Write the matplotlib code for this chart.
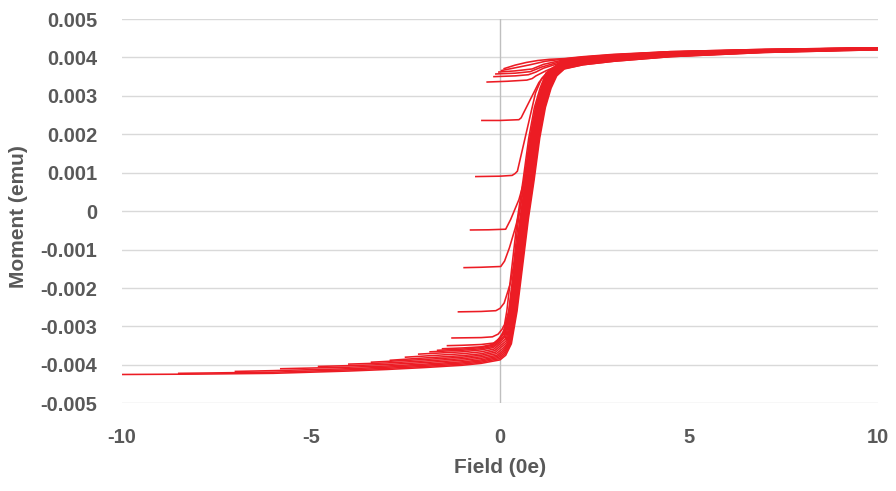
import matplotlib.pyplot as plt
import numpy as np

# First-order reversal curves.
# Fields in Oe, moments in 1e-3 emu (converted when plotted).

# curves that start on the saturated lower branch
lower_fields = [
    [-10, -8, -6, -4, -3, -2, -1, -0.5, 0, 0.15, 0.3, 0.45, 0.6, 0.75, 0.9, 1.05, 1.2, 1.35, 1.5, 1.7, 2.2, 3, 4.5, 7, 10],
    [-8.5, -6, -4, -3, -2, -1, -0.5, -0.02, 0.13, 0.28, 0.43, 0.58, 0.73, 0.88, 1.03, 1.18, 1.33, 1.48, 1.7, 2.2, 3, 4.5, 7, 10],
    [-7, -6, -4, -3, -2, -1, -0.5, -0.04, 0.11, 0.26, 0.41, 0.56, 0.71, 0.86, 1.01, 1.16, 1.31, 1.46, 1.7, 2.2, 3, 4.5, 7, 10],
    [-5.8, -4, -3, -2, -1, -0.5, -0.06, 0.09, 0.24, 0.39, 0.54, 0.69, 0.84, 0.99, 1.14, 1.29, 1.44, 1.7, 2.2, 3, 4.5, 7, 10],
    [-4.8, -4, -3, -2, -1, -0.5, -0.08, 0.07, 0.22, 0.37, 0.52, 0.67, 0.82, 0.97, 1.12, 1.27, 1.42, 1.7, 2.2, 3, 4.5, 7, 10],
    [-4, -3, -2, -1, -0.5, -0.1, 0.05, 0.2, 0.35, 0.5, 0.65, 0.8, 0.95, 1.1, 1.25, 1.4, 1.7, 2.2, 3, 4.5, 7, 10],
    [-3.4, -3, -2, -1, -0.5, -0.12, 0.03, 0.18, 0.33, 0.48, 0.63, 0.78, 0.93, 1.08, 1.23, 1.38, 1.7, 2.2, 3, 4.5, 7, 10],
    [-2.9, -2, -1, -0.5, -0.14, 0.01, 0.16, 0.31, 0.46, 0.61, 0.76, 0.91, 1.06, 1.21, 1.36, 1.7, 2.2, 3, 4.5, 7, 10],
    [-2.5, -2, -1, -0.5, -0.16, -0.01, 0.14, 0.29, 0.44, 0.59, 0.74, 0.89, 1.04, 1.19, 1.34, 1.7, 2.2, 3, 4.5, 7, 10],
    [-2.15, -1, -0.5, -0.18, -0.03, 0.12, 0.27, 0.42, 0.57, 0.72, 0.87, 1.02, 1.17, 1.32, 1.7, 2.2, 3, 4.5, 7, 10],
    [-1.85, -1, -0.5, -0.19, -0.04, 0.11, 0.26, 0.41, 0.56, 0.71, 0.86, 1.01, 1.16, 1.31, 1.7, 2.2, 3, 4.5, 7, 10],
    [-1.65, -1, -0.5, -0.2, -0.05, 0.1, 0.25, 0.4, 0.55, 0.7, 0.85, 1.0, 1.15, 1.3, 1.7, 2.2, 3, 4.5, 7, 10],
    [-1.52, -1, -0.5, -0.21, -0.06, 0.09, 0.24, 0.39, 0.54, 0.69, 0.84, 0.99, 1.14, 1.29, 1.7, 2.2, 3, 4.5, 7, 10],
    [-1.39, -1, -0.5, -0.15, 0.0, 0.1, 0.23, 0.38, 0.53, 0.68, 0.83, 0.98, 1.13, 1.28, 1.7, 2.2, 3, 4.5, 7, 10],
]
lower_moments = [
    [-4.25, -4.24, -4.22, -4.16, -4.12, -4.07, -4.01, -3.96, -3.87, -3.75, -3.45, -2.6, -1.4, -0.2, 0.8, 1.9, 2.7, 3.2, 3.52, 3.70, 3.81, 3.90, 4.02, 4.13, 4.20],
    [-4.22, -4.19, -4.13, -4.09, -4.04, -3.98, -3.93, -3.84, -3.72, -3.45, -2.6, -1.4, -0.2, 0.8, 1.9, 2.7, 3.2, 3.53, 3.71, 3.81, 3.90, 4.02, 4.13, 4.20],
    [-4.17, -4.15, -4.10, -4.06, -4.01, -3.95, -3.90, -3.81, -3.69, -3.45, -2.6, -1.4, -0.2, 0.8, 1.9, 2.7, 3.2, 3.54, 3.73, 3.83, 3.92, 4.03, 4.14, 4.21],
    [-4.10, -4.06, -4.03, -3.98, -3.92, -3.87, -3.78, -3.66, -3.45, -2.6, -1.4, -0.2, 0.8, 1.9, 2.7, 3.2, 3.54, 3.74, 3.83, 3.92, 4.03, 4.14, 4.21],
    [-4.04, -4.02, -3.99, -3.94, -3.88, -3.83, -3.75, -3.63, -3.45, -2.6, -1.4, -0.2, 0.8, 1.9, 2.7, 3.2, 3.55, 3.75, 3.85, 3.94, 4.05, 4.15, 4.21],
    [-3.98, -3.95, -3.90, -3.84, -3.79, -3.71, -3.59, -3.45, -2.6, -1.4, -0.2, 0.8, 1.9, 2.7, 3.2, 3.55, 3.76, 3.85, 3.94, 4.05, 4.15, 4.21],
    [-3.93, -3.91, -3.86, -3.80, -3.75, -3.67, -3.54, -3.42, -2.6, -1.4, -0.2, 0.8, 1.9, 2.7, 3.2, 3.56, 3.78, 3.87, 3.95, 4.06, 4.15, 4.22],
    [-3.88, -3.82, -3.76, -3.71, -3.63, -3.50, -3.38, -2.6, -1.4, -0.2, 0.8, 1.9, 2.7, 3.2, 3.56, 3.79, 3.87, 3.95, 4.06, 4.15, 4.22],
    [-3.80, -3.77, -3.71, -3.66, -3.59, -3.46, -3.33, -2.6, -1.4, -0.2, 0.8, 1.9, 2.7, 3.2, 3.57, 3.81, 3.89, 3.97, 4.07, 4.16, 4.22],
    [-3.72, -3.66, -3.61, -3.55, -3.43, -3.28, -2.6, -1.4, -0.2, 0.8, 1.9, 2.7, 3.2, 3.57, 3.82, 3.89, 3.97, 4.07, 4.16, 4.22],
    [-3.66, -3.62, -3.58, -3.52, -3.40, -3.25, -2.6, -1.4, -0.2, 0.8, 1.9, 2.7, 3.2, 3.58, 3.84, 3.92, 3.99, 4.09, 4.17, 4.23],
    [-3.62, -3.59, -3.55, -3.49, -3.37, -3.20, -2.6, -1.4, -0.2, 0.8, 1.9, 2.7, 3.2, 3.58, 3.84, 3.92, 3.99, 4.09, 4.17, 4.23],
    [-3.58, -3.56, -3.53, -3.47, -3.35, -3.17, -2.6, -1.4, -0.2, 0.8, 1.9, 2.7, 3.2, 3.59, 3.86, 3.94, 4.01, 4.10, 4.18, 4.23],
    [-3.50, -3.49, -3.47, -3.43, -3.30, -3.10, -2.6, -1.4, -0.2, 0.8, 1.9, 2.7, 3.2, 3.59, 3.86, 3.94, 4.01, 4.10, 4.18, 4.23],
]

# curves reversed inside the switching region (visible flat starts)
minor_fields = [
    [-1.27, -0.5, -0.2, -0.05, 0.05, 0.12, 0.18, 0.32, 0.46, 0.61, 0.76, 0.91, 1.06, 1.22, 1.7, 2.2, 3, 4.5, 7, 10],
    [-1.10, -0.5, -0.11, 0.0, 0.11, 0.28, 0.36, 0.49, 0.64, 0.79, 0.94, 1.09, 1.24, 1.7, 2.2, 3, 4.5, 7, 10],
    [-0.95, -0.5, 0.02, 0.12, 0.25, 0.40, 0.52, 0.66, 0.81, 0.96, 1.11, 1.26, 1.7, 2.2, 3, 4.5, 7, 10],
    [-0.78, -0.3, 0.15, 0.28, 0.50, 0.63, 0.82, 0.97, 1.12, 1.27, 1.7, 2.2, 3, 4.5, 7, 10],
    [-0.64, 0.0, 0.32, 0.40, 0.46, 0.70, 0.94, 1.10, 1.30, 1.7, 2.2, 3, 4.5, 7, 10],
    [-0.48, 0.0, 0.50, 0.56, 0.62, 1.03, 1.22, 1.7, 2.2, 3, 4.5, 7, 10],
]
minor_moments = [
    [-3.30, -3.29, -3.27, -3.20, -3.08, -2.95, -2.6, -1.4, -0.2, 0.8, 1.9, 2.7, 3.2, 3.60, 3.89, 3.96, 4.03, 4.11, 4.19, 4.24],
    [-2.62, -2.61, -2.59, -2.53, -2.39, -1.86, -1.4, -0.2, 0.8, 1.9, 2.7, 3.2, 3.60, 3.89, 3.96, 4.03, 4.11, 4.19, 4.24],
    [-1.47, -1.46, -1.44, -1.30, -0.95, -0.45, 0.0, 0.8, 1.9, 2.7, 3.2, 3.60, 3.92, 3.98, 4.04, 4.12, 4.19, 4.24],
    [-0.49, -0.485, -0.47, -0.22, 0.30, 0.75, 1.9, 2.7, 3.2, 3.60, 3.92, 3.98, 4.04, 4.12, 4.19, 4.24],
    [0.90, 0.91, 0.93, 0.98, 1.04, 2.06, 3.08, 3.45, 3.66, 3.94, 4.00, 4.06, 4.14, 4.20, 4.25],
    [2.36, 2.36, 2.38, 2.43, 2.55, 3.35, 3.57, 3.94, 4.00, 4.06, 4.14, 4.20, 4.25],
]

# curves reversed before switching (stay on the upper branch)
upper_fields = [
    [-0.34, 0.2, 0.71, 0.85, 0.95, 1.21, 1.7, 2.2, 3, 4.5, 7, 10],
    [-0.16, 0.4, 0.75, 0.95, 1.15, 1.7, 2.2, 3, 4.5, 7, 10],
    [-0.11, 0.4, 0.8, 1.1, 1.7, 2.2, 3, 4.5, 7, 10],
    [-0.03, 0.4, 0.85, 1.15, 1.7, 2.2, 3, 4.5, 7, 10],
    [0.04, 0.4, 0.8, 1.2, 1.7, 2.2, 3, 4.5, 7, 10],
    [0.11, 0.4, 0.7, 1.0, 1.3, 1.7, 2.2, 3, 4.5, 7, 10],
]
upper_moments = [
    [3.36, 3.38, 3.41, 3.45, 3.52, 3.65, 3.86, 3.94, 4.01, 4.10, 4.18, 4.23],
    [3.50, 3.52, 3.55, 3.62, 3.72, 3.89, 3.96, 4.03, 4.11, 4.19, 4.24],
    [3.57, 3.59, 3.63, 3.75, 3.92, 3.98, 4.04, 4.12, 4.19, 4.24],
    [3.62, 3.65, 3.70, 3.82, 3.94, 4.00, 4.06, 4.14, 4.20, 4.25],
    [3.66, 3.73, 3.81, 3.90, 3.96, 4.01, 4.07, 4.15, 4.21, 4.25],
    [3.71, 3.80, 3.87, 3.92, 3.95, 3.97, 4.02, 4.08, 4.15, 4.21, 4.25],
]

x_ticks = [-10, -5, 0, 5, 10]
x_tick_labels = ['-10', '-5', '0', '5', '10']
y_ticks = [0.005, 0.004, 0.003, 0.002, 0.001, 0, -0.001, -0.002, -0.003, -0.004, -0.005]
y_tick_labels = ['0.005', '0.004', '0.003', '0.002', '0.001', '0',
                 '-0.001', '-0.002', '-0.003', '-0.004', '-0.005']

RED = '#ec1c24'
TEXT = '#595959'
FONT = ['Liberation Sans', 'DejaVu Sans']

fig = plt.figure(figsize=(8.96, 4.91), dpi=100)
ax = fig.add_axes([0.1362, 0.1786, 0.8437, 0.7827])

for ys in y_ticks:
    ax.axhline(ys, color='#d9d9d9', lw=1.0, zorder=0)
ax.axvline(0, color='#bfbfbf', lw=1.0, zorder=0.5)

for fields, moments in zip(lower_fields + minor_fields + upper_fields,
                           lower_moments + minor_moments + upper_moments):
    ax.plot(fields, np.array(moments) * 1e-3, color=RED, lw=1.15,
            solid_joinstyle='round', zorder=2)

ax.set_xlim(-10, 10)
ax.set_ylim(-0.005, 0.005)
for s in ax.spines.values():
    s.set_visible(False)
ax.set_xticks(x_ticks)
ax.set_xticklabels(x_tick_labels)
ax.set_yticks(y_ticks)
ax.set_yticklabels(y_tick_labels)
ax.tick_params(length=0, colors=TEXT, labelsize=14.5)
ax.tick_params(axis='x', pad=18)
ax.tick_params(axis='y', pad=18)
for lab in ax.get_xticklabels() + ax.get_yticklabels():
    lab.set_fontweight('bold')
    lab.set_family(FONT)

ax.set_xlabel('Field (0e)', fontsize=15, fontweight='bold', color=TEXT, family=FONT)
ax.set_ylabel('Moment (emu)', fontsize=15, fontweight='bold', color=TEXT, family=FONT)
ax.xaxis.set_label_coords(0.5, -0.166)
ax.xaxis.label.set_va('center')
ax.yaxis.set_label_coords(-0.1376, 0.485)
ax.yaxis.label.set_va('center')

fig.savefig('out.png', dpi=100)
